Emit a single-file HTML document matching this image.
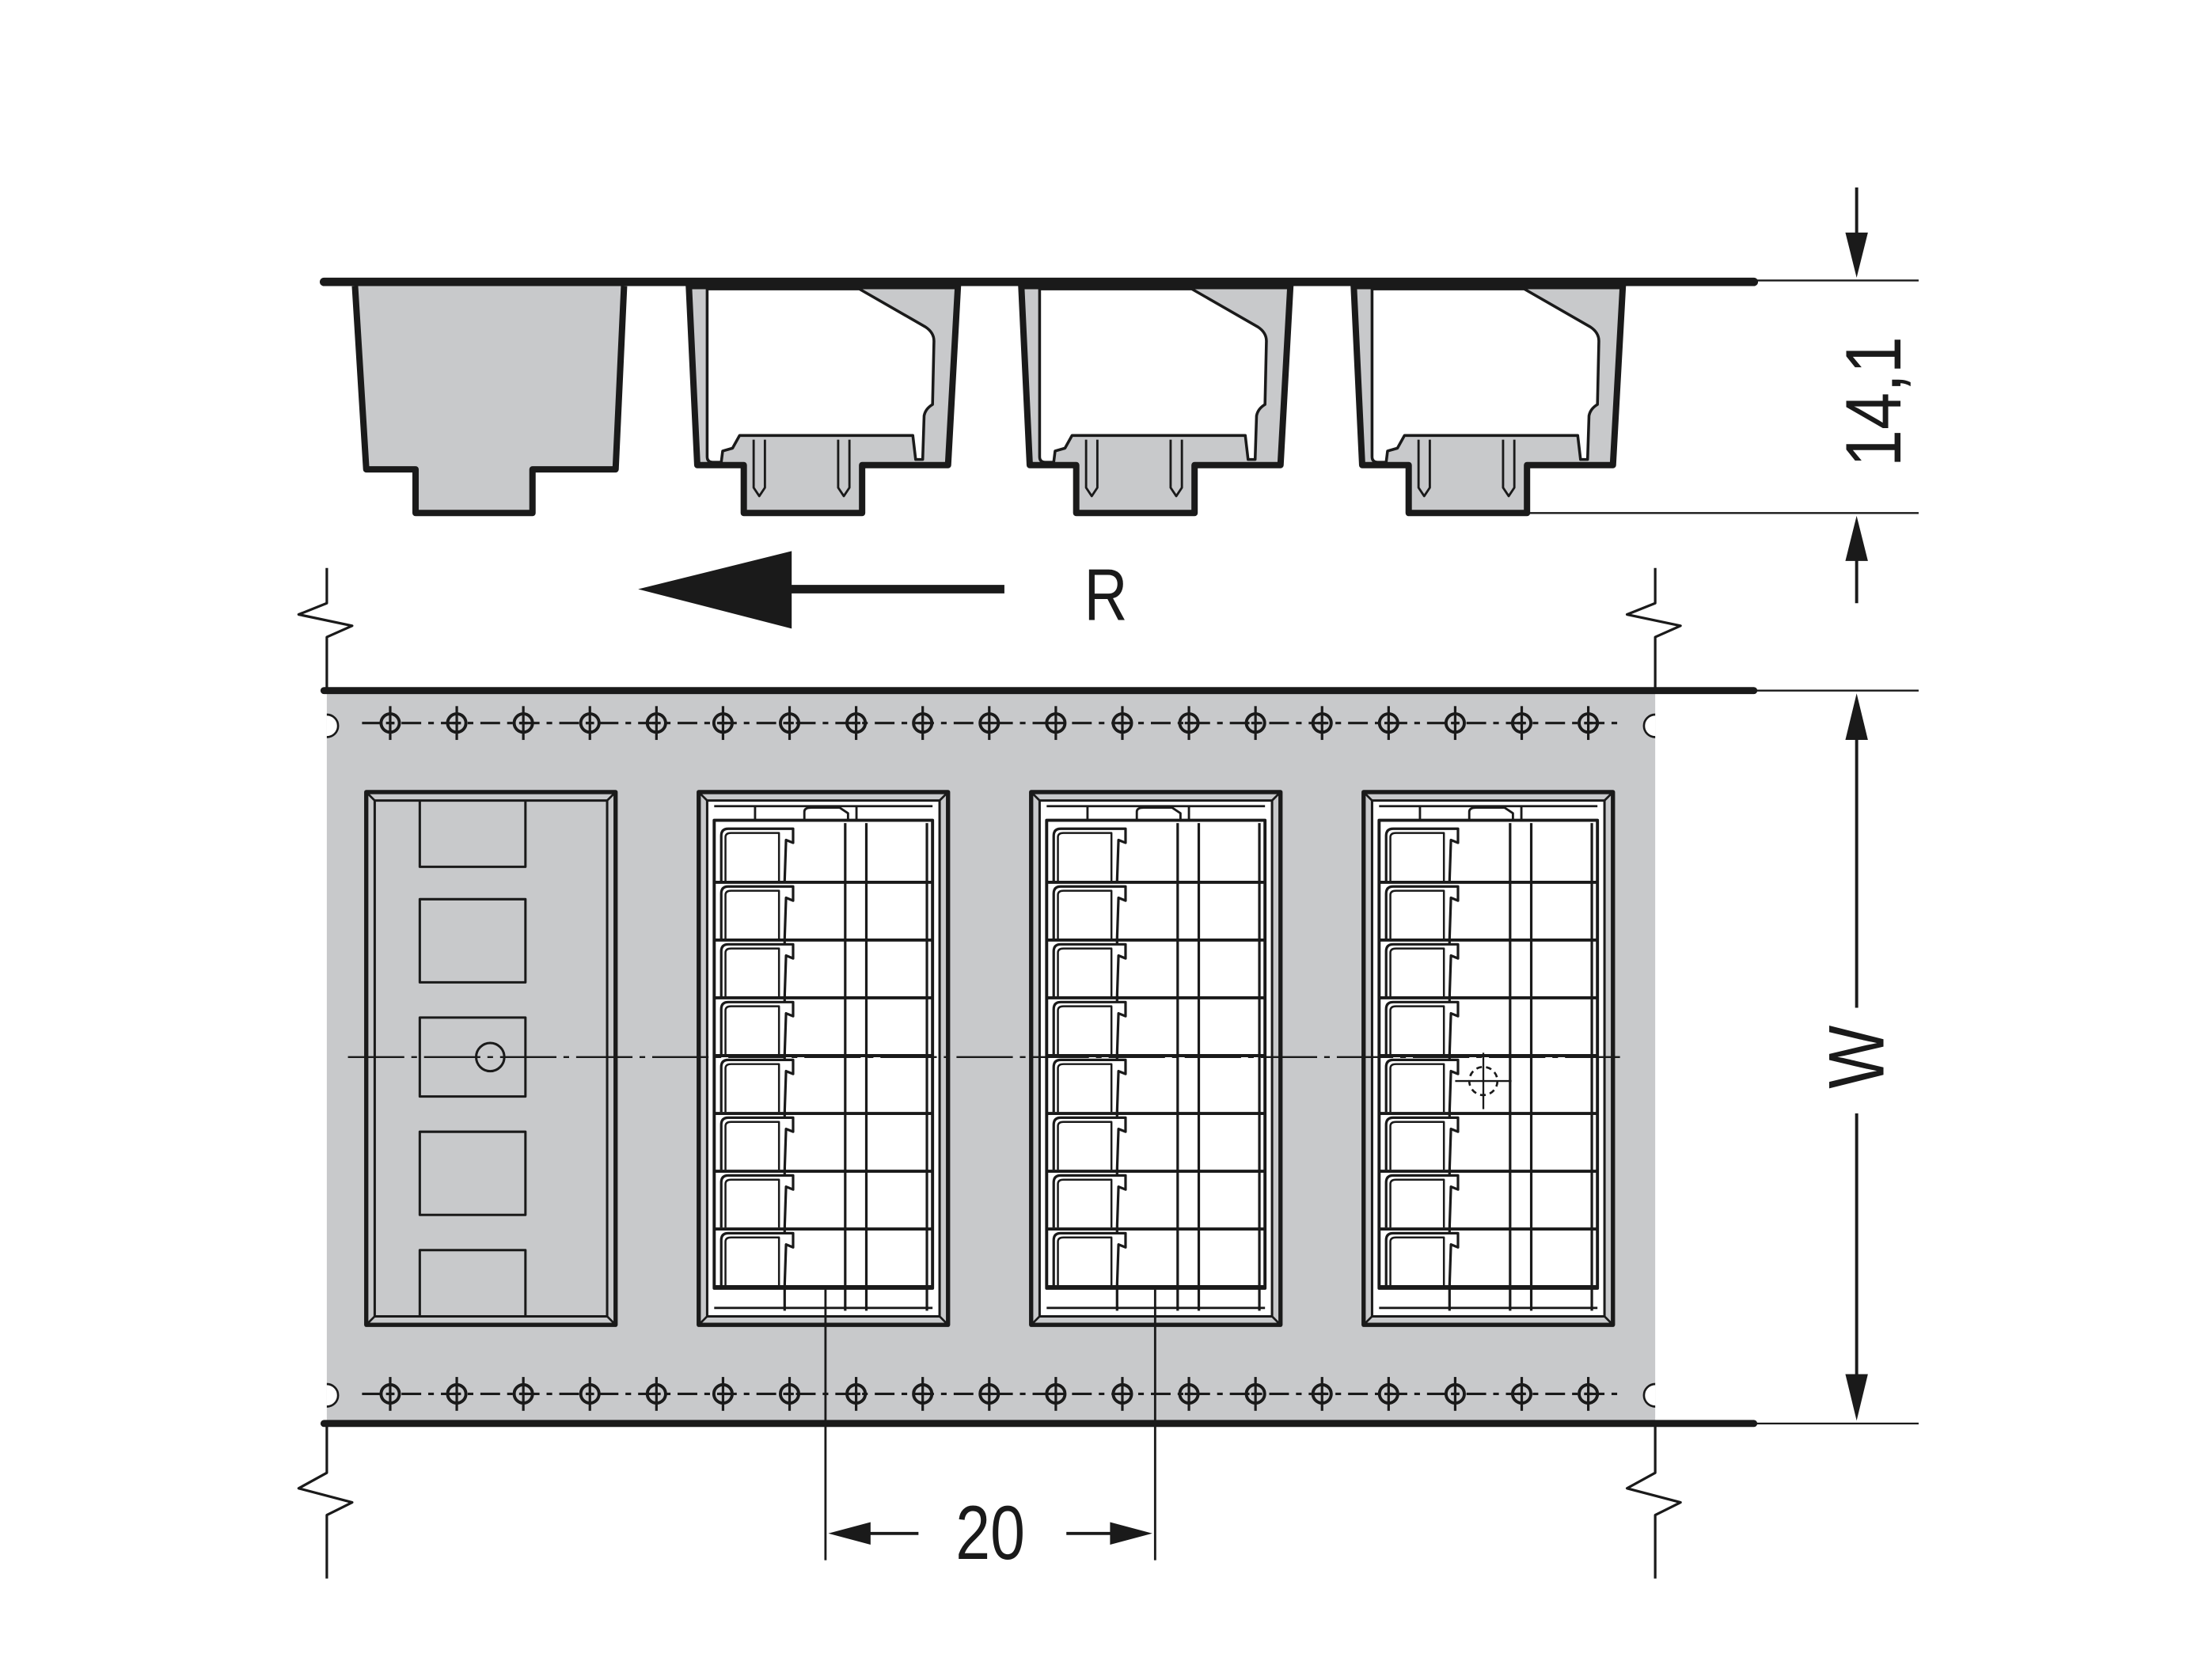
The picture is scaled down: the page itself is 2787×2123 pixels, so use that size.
<!DOCTYPE html>
<html><head><meta charset="utf-8"><style>
html,body{margin:0;padding:0;background:#fff;}
svg{display:block;}
text{font-family:"Liberation Sans",sans-serif;fill:#1a1a1a;}
</style></head><body>
<svg id="s" width="2787" height="2123" viewBox="0 0 1566 1192" preserveAspectRatio="none" xmlns="http://www.w3.org/2000/svg">
<g stroke="#1a1a1a" fill="none" stroke-linejoin="round">
<path d="M252,203 L260,333 L295,333 L295,364 L378,364 L378,333 L437,333 L443,203" fill="#c8c9cb" stroke-width="4.5"/>
<g id="tb">
<path d="M489,203 L495,330 L528,330 L528,364 L612,364 L612,330 L673,330 L680,203 Z" fill="#c8c9cb" stroke-width="4.5"/>
<path d="M502,205 L502,324 Q502,328 506,328 L512,328 L513,320 L520,318 L525,309 L648,309 L650,326 L655,326 L656,295 Q657,290 662,287 L663,242 Q663,236 657,232 L610,205 Z" fill="#fff" stroke-width="2"/>
<path d="M535,312 L535,346 L539,352 L543,346 L543,312 M595,312 L595,346 L599,352 L603,346 L603,312" stroke-width="1.6" fill="none"/>
</g>
<use href="#tb" x="236"/>
<use href="#tb" x="472"/>
<line x1="230" y1="200" x2="1245" y2="200" stroke-width="6" stroke-linecap="round"/>
<line x1="1245" y1="199" x2="1362" y2="199" stroke-width="1.3"/>
<line x1="1085" y1="364" x2="1362" y2="364" stroke-width="1.3"/>
<line x1="1318" y1="133" x2="1318" y2="170" stroke-width="2.2"/>
<path d="M1310,165 L1326,165 L1318,197 Z" fill="#1a1a1a" stroke="none"/>
<line x1="1318" y1="395" x2="1318" y2="428" stroke-width="2.2"/>
<path d="M1310,398 L1326,398 L1318,366 Z" fill="#1a1a1a" stroke="none"/>
<path d="M453,418 L562,391 L562,446 Z" fill="#1a1a1a" stroke="none"/>
<line x1="560" y1="418" x2="713" y2="418" stroke-width="6"/>
<path d="M232,403 L232,428 L212,436 L250,444 L232,452 L232,490" stroke-width="1.8"/>
<path d="M1175,403 L1175,428 L1155,436 L1193,444 L1175,452 L1175,490" stroke-width="1.8"/>
<path d="M232,1010 L232,1045 L212,1056 L250,1066 L232,1075 L232,1120" stroke-width="1.8"/>
<path d="M1175,1010 L1175,1045 L1155,1056 L1193,1066 L1175,1075 L1175,1120" stroke-width="1.8"/>
<rect x="232" y="490" width="943" height="520" fill="#c8c9cb" stroke="none"/>
<g fill="#fff" stroke-width="1.5">
<path d="M232,507 A8,8 0 0 1 232,523"/><path d="M232,982 A8,8 0 0 1 232,998"/>
<path d="M1175,507 A8,8 0 0 0 1175,523"/><path d="M1175,982 A8,8 0 0 0 1175,998"/>
</g>
<line x1="230" y1="490" x2="1245" y2="490" stroke-width="5" stroke-linecap="round"/>
<line x1="230" y1="1010" x2="1245" y2="1010" stroke-width="5" stroke-linecap="round"/>
<line x1="1245" y1="490" x2="1362" y2="490" stroke-width="1.3"/>
<line x1="1245" y1="1010" x2="1362" y2="1010" stroke-width="1.3"/>
<g id="holes" stroke-width="1.8"></g>
<rect x="260" y="562" width="177" height="378" stroke-width="3"/>
<rect x="266" y="568" width="165" height="366" stroke-width="1.7"/>
<path d="M260,562 L266,568 M437,562 L431,568 M260,940 L266,934 M437,940 L431,934" stroke-width="1.5"/>
<path d="M298,568 L298,615 L373,615 L373,568 M298,934 L298,887 L373,887 L373,934" stroke-width="1.7"/>
<rect x="298" y="638" width="75" height="59" stroke-width="1.7"/>
<rect x="298" y="722" width="75" height="56" stroke-width="1.7"/>
<rect x="298" y="803" width="75" height="59" stroke-width="1.7"/>
<circle cx="348" cy="750" r="10" stroke-width="1.7"/>
<g id="pk"></g>
<line x1="247" y1="750" x2="1150" y2="750" stroke-width="1.3" stroke-dasharray="40,5,4,5"/>
<circle cx="1053" cy="767" r="10" stroke-width="1.5" stroke-dasharray="4,3" fill="none"/>
<path d="M1053,747 L1053,787 M1033,767 L1073,767" stroke-width="1.3"/>
<line x1="1318" y1="525" x2="1318" y2="715" stroke-width="2.2"/>
<line x1="1318" y1="790" x2="1318" y2="975" stroke-width="2.2"/>
<path d="M1310,525 L1326,525 L1318,492 Z" fill="#1a1a1a" stroke="none"/>
<path d="M1310,975 L1326,975 L1318,1008 Z" fill="#1a1a1a" stroke="none"/>
<line x1="586" y1="915" x2="586" y2="1107" stroke-width="1.6"/>
<line x1="820" y1="915" x2="820" y2="1107" stroke-width="1.6"/>
<line x1="610" y1="1088" x2="652" y2="1088" stroke-width="2.2"/>
<path d="M588,1088 L618,1080 L618,1096 Z" fill="#1a1a1a" stroke="none"/>
<line x1="757" y1="1088" x2="796" y2="1088" stroke-width="2.2"/>
<path d="M818,1088 L788,1080 L788,1096 Z" fill="#1a1a1a" stroke="none"/>
</g>
<text x="785" y="440" font-size="52" text-anchor="middle" transform="translate(785 0) scale(0.82 1) translate(-785 0)">R</text>
<text x="703" y="1106" font-size="54" text-anchor="middle" transform="translate(703 0) scale(0.82 1) translate(-703 0)">20</text>
<text font-size="56" text-anchor="middle" transform="translate(1337 750) rotate(-90) scale(0.85 1)">W</text>
<text font-size="56" text-anchor="middle" transform="translate(1349 285) rotate(-90) scale(0.85 1)">14,1</text>
</svg>
<script>
var NS="http://www.w3.org/2000/svg";
function el(p,t,a){var e=document.createElementNS(NS,t);for(var k in a)e.setAttribute(k,a[k]);p.appendChild(e);return e;}
var h=document.getElementById("holes");
[513,989].forEach(function(y){
 el(h,"line",{x1:257,y1:y,x2:1150,y2:y,"stroke-dasharray":"14,5,4,5"});
 for(var i=0;i<19;i++){var x=277+i*47.25;
  el(h,"circle",{cx:x,cy:y,r:6.5,"stroke-width":2.2});
  el(h,"line",{x1:x,y1:y-12,x2:x,y2:y+12});
  el(h,"line",{x1:x-3,y1:y,x2:x+3,y2:y});
 }
});
var pk=document.getElementById("pk");
[496,732,968].forEach(function(x0){
 var g=el(pk,"g",{});
 el(g,"rect",{x:x0,y:562,width:177,height:378,"stroke-width":3});
 el(g,"rect",{x:x0+6,y:568,width:165,height:366,fill:"#fff","stroke-width":1.7});
 el(g,"path",{d:"M"+x0+",562 L"+(x0+6)+",568 M"+(x0+177)+",562 L"+(x0+171)+",568 M"+x0+",940 L"+(x0+6)+",934 M"+(x0+177)+",940 L"+(x0+171)+",934","stroke-width":1.5});
 el(g,"rect",{x:x0+11,y:582,width:155,height:332,"stroke-width":2.2});
 el(g,"path",{d:"M"+(x0+11)+",572 L"+(x0+166)+",572 M"+(x0+40)+",572 L"+(x0+40)+",582 M"+(x0+112)+",572 L"+(x0+112)+",582 M"+(x0+75)+",582 L"+(x0+75)+",576 Q"+(x0+75)+",573 "+(x0+80)+",573 L"+(x0+100)+",573 L"+(x0+106)+",577 L"+(x0+106)+",582","stroke-width":1.6});
 [x0+61,x0+104,x0+119,x0+162].forEach(function(x,i){
  el(g,"line",{x1:x,y1:i==0?667:584,x2:x,y2:930,"stroke-width":1.8});});
 for(var r=0;r<8;r++){var y=585+r*41;
  if(r>0)el(g,"line",{x1:x0+11,y1:y,x2:x0+166,y2:y,"stroke-width":2.2});
  el(g,"path",{d:"M"+(x0+16)+","+(y+40)+" L"+(x0+16)+","+(y+8)+" Q"+(x0+16)+","+(y+3)+" "+(x0+21)+","+(y+3)+" L"+(x0+67)+","+(y+3)+" L"+(x0+67)+","+(y+13)+" L"+(x0+62)+","+(y+11)+" L"+(x0+61)+","+(y+40),"stroke-width":1.8,fill:"#fff"});
  el(g,"path",{d:"M"+(x0+19)+","+(y+40)+" L"+(x0+19)+","+(y+9)+" Q"+(x0+19)+","+(y+6)+" "+(x0+23)+","+(y+6)+" L"+(x0+57)+","+(y+6)+" L"+(x0+57)+","+(y+40),"stroke-width":1.4,fill:"none"});
 }
 el(g,"line",{x1:x0+11,y1:913,x2:x0+166,y2:913,"stroke-width":2.4});
 el(g,"path",{d:"M"+(x0+11)+",928 L"+(x0+166)+",928","stroke-width":1.6});
});
</script>
</body></html>
